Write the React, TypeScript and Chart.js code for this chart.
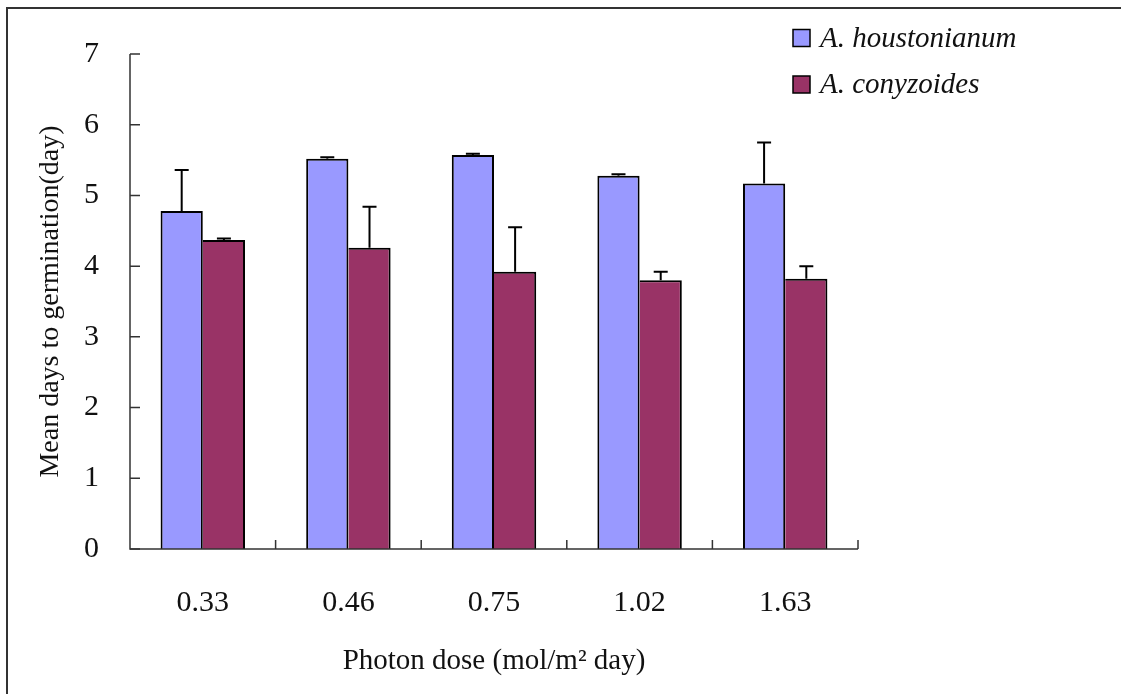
import React, { useEffect, useRef } from "react";
import { Chart, registerables } from "chart.js";

Chart.register(...registerables);

const categories = ["0.33", "0.46", "0.75", "1.02", "1.63"];
const seriesNames = ["A. houstonianum", "A. conyzoides"];
const houstonianum = [4.78, 5.52, 5.57, 5.28, 5.17];
const houstonianumErr = [0.58, 0.02, 0.02, 0.02, 0.58];
const conyzoides = [4.37, 4.26, 3.92, 3.8, 3.82];
const conyzoidesErr = [0.02, 0.58, 0.63, 0.12, 0.18];
const yTicks = [0, 1, 2, 3, 4, 5, 6, 7];
const colors = ["#9999FF", "#993366"];
const errors = [houstonianumErr, conyzoidesErr];

const FONT = "'Liberation Serif', 'Times New Roman', serif";

const decorPlugin = {
  id: "decor",
  beforeDraw(chart: any) {
    const ctx = chart.ctx;
    ctx.save();
    ctx.fillStyle = "#fff";
    ctx.fillRect(0, 0, chart.width, chart.height);
    ctx.strokeStyle = "#333";
    ctx.lineWidth = 2;
    ctx.beginPath();
    ctx.moveTo(7, chart.height);
    ctx.lineTo(7, 8);
    ctx.lineTo(chart.width, 8);
    ctx.stroke();
    ctx.restore();
  },
  afterDatasetsDraw(chart: any) {
    const ctx = chart.ctx;
    const yScale = chart.scales.y;
    const area = chart.chartArea;
    ctx.save();
    // error bars
    ctx.strokeStyle = "#000";
    ctx.lineWidth = 2;
    chart.data.datasets.forEach((ds: any, di: number) => {
      const meta = chart.getDatasetMeta(di);
      meta.data.forEach((bar: any, i: number) => {
        const v = ds.data[i];
        const e = errors[di][i];
        const yTop = yScale.getPixelForValue(v + e);
        ctx.beginPath();
        ctx.moveTo(bar.x, bar.y);
        ctx.lineTo(bar.x, yTop);
        ctx.moveTo(bar.x - 7, yTop);
        ctx.lineTo(bar.x + 7, yTop);
        ctx.stroke();
      });
    });
    // axes
    ctx.strokeStyle = "#333";
    ctx.lineWidth = 1.5;
    ctx.beginPath();
    ctx.moveTo(area.left, area.top);
    ctx.lineTo(area.left, area.bottom);
    ctx.lineTo(area.right, area.bottom);
    ctx.stroke();
    ctx.beginPath();
    yTicks.forEach((t) => {
      const y = yScale.getPixelForValue(t);
      ctx.moveTo(area.left, y);
      ctx.lineTo(area.left + 10, y);
    });
    const n = categories.length;
    const step = (area.right - area.left) / n;
    for (let i = 1; i <= n; i++) {
      const x = area.left + step * i;
      ctx.moveTo(x, area.bottom);
      ctx.lineTo(x, area.bottom - 9);
    }
    ctx.stroke();
    // legend
    ctx.font = `italic 29px ${FONT}`;
    ctx.textBaseline = "middle";
    ctx.textAlign = "left";
    seriesNames.forEach((name, i) => {
      const cy = 38 + i * 46.5;
      ctx.fillStyle = colors[i];
      ctx.fillRect(793, cy - 8.5, 17, 17);
      ctx.strokeStyle = "#000";
      ctx.lineWidth = 1.5;
      ctx.strokeRect(793, cy - 8.5, 17, 17);
      ctx.fillStyle = "#111";
      ctx.fillText(name, 820, cy + 1);
    });
    ctx.restore();
  },
};

export default function App() {
  const ref = useRef<HTMLCanvasElement | null>(null);
  useEffect(() => {
    if (!ref.current) return;
    const chart = new Chart(ref.current, {
      type: "bar",
      data: {
        labels: categories,
        datasets: [
          {
            label: seriesNames[0],
            data: houstonianum,
            backgroundColor: colors[0],
            borderColor: "#000",
            borderWidth: { top: 2, left: 2, right: 2, bottom: 0 } as any,
            borderSkipped: false,
            categoryPercentage: 0.58,
            barPercentage: 1.0,
          },
          {
            label: seriesNames[1],
            data: conyzoides,
            backgroundColor: colors[1],
            borderColor: "#000",
            borderWidth: { top: 2, left: 0, right: 2, bottom: 0 } as any,
            borderSkipped: false,
            categoryPercentage: 0.58,
            barPercentage: 1.0,
          },
        ],
      },
      options: {
        animation: false,
        responsive: false,
        devicePixelRatio: 1,
        layout: { padding: { left: 0, top: 54, right: 263, bottom: 0 } },
        plugins: {
          legend: { display: false },
          tooltip: { enabled: false },
          title: { display: false },
        },
        scales: {
          x: {
            grid: { display: false },
            border: { display: false },
            ticks: {
              color: "#111",
              font: { family: FONT, size: 30 },
              padding: 28,
              maxRotation: 0,
            },
            title: {
              display: true,
              text: "Photon dose (mol/m² day)",
              color: "#111",
              font: { family: FONT, size: 29 },
              padding: { top: 0, bottom: 15 },
            },
            afterFit(scale: any) {
              scale.height = 145;
            },
          },
          y: {
            min: 0,
            max: 7,
            grid: { display: false },
            border: { display: false },
            ticks: {
              stepSize: 1,
              color: "#111",
              font: { family: FONT, size: 30 },
              padding: 23,
            },
            title: {
              display: true,
              text: "Mean days to germination(day)",
              color: "#111",
              font: { family: FONT, size: 28 },
              padding: { top: 34, bottom: 0 },
            },
            afterFit(scale: any) {
              scale.width = 130;
            },
          },
        },
      },
      plugins: [decorPlugin],
    });
    return () => chart.destroy();
  }, []);
  return (
    <div style={{ position: "fixed", left: 0, top: 0, width: 1121, height: 694, background: "#fff" }}>
      <canvas ref={ref} width={1121} height={694} style={{ display: "block" }} />
    </div>
  );
}
